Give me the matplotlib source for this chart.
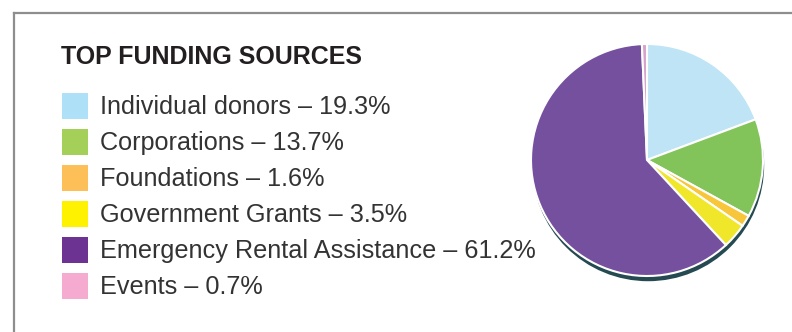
import matplotlib
matplotlib.use("Agg")
import matplotlib.pyplot as plt
from matplotlib.patches import Circle, Rectangle
from matplotlib.lines import Line2D

plt.rcParams["font.family"] = ["Liberation Sans", "DejaVu Sans"]

# funding breakdown
sources = ["Individual donors", "Corporations", "Foundations",
           "Government Grants", "Emergency Rental Assistance", "Events"]
shares = [19.3, 13.7, 1.6, 3.5, 61.2, 0.7]
pie_colors = ["#bee4f5", "#82c45a", "#f8c63a", "#f0e72a", "#75509e", "#d6a2cb"]
key_colors = ["#aee0f8", "#a4cf59", "#fdbf57", "#fff200", "#6d3393", "#f5abcf"]

W, H = 792, 332
fig = plt.figure(figsize=(W / 100, H / 100), dpi=100)

# full-figure canvas in pixel coords (y downwards)
bg = fig.add_axes([0, 0, 1, 1])
bg.set_xlim(0, W)
bg.set_ylim(H, 0)
bg.axis("off")

# panel frame: top and left rules only
bg.add_line(Line2D([14, W], [13, 13], color="#8e8e8e", lw=1.6))
bg.add_line(Line2D([14, 14], [13, H], color="#8e8e8e", lw=1.6))

bg.text(61, 57, "TOP FUNDING SOURCES", fontsize=18, fontweight="bold",
        color="#231f20", va="center", ha="left")

row0, step = 106, 36
for i, (name, val) in enumerate(zip(sources, shares)):
    y = row0 + i * step
    bg.add_patch(Rectangle((62, y - 13), 26, 26, color=key_colors[i], lw=0))
    bg.text(100, y + 1, f"{name} \u2013 {val}%", fontsize=18.2,
            color="#333333", va="center", ha="left")

# pie with drop shadow
cx, cy, r = 647, 160, 116
pad = 1.15
ax = fig.add_axes([(cx - r * pad) / W, 1 - (cy + r * pad) / H,
                   2 * r * pad / W, 2 * r * pad / H])
ax.add_patch(Circle((0.01, -0.045), 1.0, color="#264a52", lw=0, zorder=0))
wedges, _ = ax.pie(shares, colors=pie_colors, startangle=90, counterclock=False,
                   radius=1.0, center=(0, 0), frame=False,
                   wedgeprops=dict(edgecolor="white", linewidth=1.5))
for w in wedges:
    w.set_zorder(2)
ax.set_xlim(-pad, pad)
ax.set_ylim(-pad, pad)
ax.set_aspect("equal")
ax.axis("off")

fig.savefig("out.png", dpi=100)
